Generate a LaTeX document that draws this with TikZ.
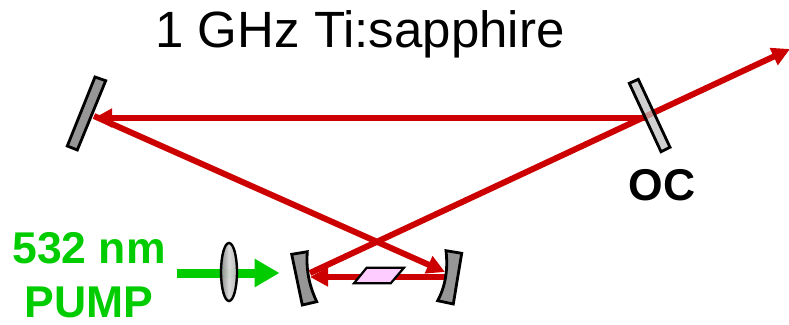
\documentclass[tikz,border=0pt]{standalone}
\usepackage{fontspec}
\setmainfont{Liberation Sans}
\usetikzlibrary{arrows.meta}
\definecolor{beamred}{HTML}{CC0000}
\definecolor{pumpgreen}{HTML}{00CC00}
\definecolor{mirrorgray}{HTML}{969696}
\definecolor{ocgray}{HTML}{C0C0C0}
\definecolor{crystalpink}{HTML}{FFCCFF}
\tikzset{
  beam/.style={draw=beamred,line width=6pt,-{Triangle[length=18pt,width=18pt]},shorten >=0pt},
  mirrorbody/.style={draw=black,line width=2.8pt,fill=mirrorgray,line join=miter},
  labeltext/.style={inner sep=0pt,font=\fontsize{44.5}{44.5}\selectfont\bfseries,text=black},
  pumptext/.style={inner sep=0pt,font=\fontsize{44.5}{44.5}\selectfont\bfseries,text=pumpgreen}
}
\begin{document}
\begin{tikzpicture}[x=1pt,y=-1pt]
\useasboundingbox (0,0) rectangle (789,324);
\coordinate (topright) at (645,118);
\coordinate (topleft) at (94,118);
\coordinate (diagleft) at (94,116);
\coordinate (rightfocus) at (445,272);
\coordinate (rightlow) at (447,277);
\coordinate (leftlow) at (310,277);
\coordinate (leftup) at (310,273);
\coordinate (exit) at (790,49);
\coordinate (pumpstart) at (177,273);
\coordinate (pumpend) at (279.5,273);
% beams
\draw[beam] (topright) -- (topleft);
\draw[beam] (diagleft) -- (rightfocus);
\draw[beam] (rightlow) -- (leftlow);
\draw[beam] (leftup) -- (exit);
% pump
\draw[draw=pumpgreen,line width=9pt,-{Triangle[length=25pt,width=27pt]}] (pumpstart) -- (pumpend);
% lens
\fill[left color=black!35,right color=black!15,middle color=white,fill opacity=0.82] (229,272) ellipse [x radius=8,y radius=29];
\draw[line width=2.4pt] (229,272) ellipse [x radius=8,y radius=29];
% mirrors
\draw[mirrorbody] (95,77) -- (105.7,80.7) -- (77.3,150) -- (67.3,146) -- cycle;
\draw[draw=black,line width=2.8pt,fill=ocgray,fill opacity=0.75] (629.3,83.3) -- (638.3,79.3) -- (670,147.3) -- (661,151.7) -- cycle;
\draw[mirrorbody] (291.7,254.3) -- (307.3,251.7) .. controls (306,270) and (309,285) .. (316.7,301.7) -- (302.3,305) -- cycle;
\draw[mirrorbody] (446,250.7) -- (461.7,253.3) -- (453.3,304) -- (437.7,300.7) .. controls (446,285) and (448,268) .. (446,250.7) -- cycle;
% crystal
\draw[draw=black,line width=2.2pt,fill=crystalpink] (366.7,267.7) -- (404,267.7) -- (390.7,283.3) -- (354,283.3) -- cycle;
% labels
\node[inner sep=0pt,font=\fontsize{51}{51}\selectfont] (title) at (360,34) {1 GHz Ti:sapphire};
\node[labeltext] (oclabel) at (662,185) {OC};
\node[pumptext] (pumpa) at (89,248) {532 nm};
\node[pumptext] (pumpb) at (89,302.5) {PUMP};
\end{tikzpicture}
\end{document}
